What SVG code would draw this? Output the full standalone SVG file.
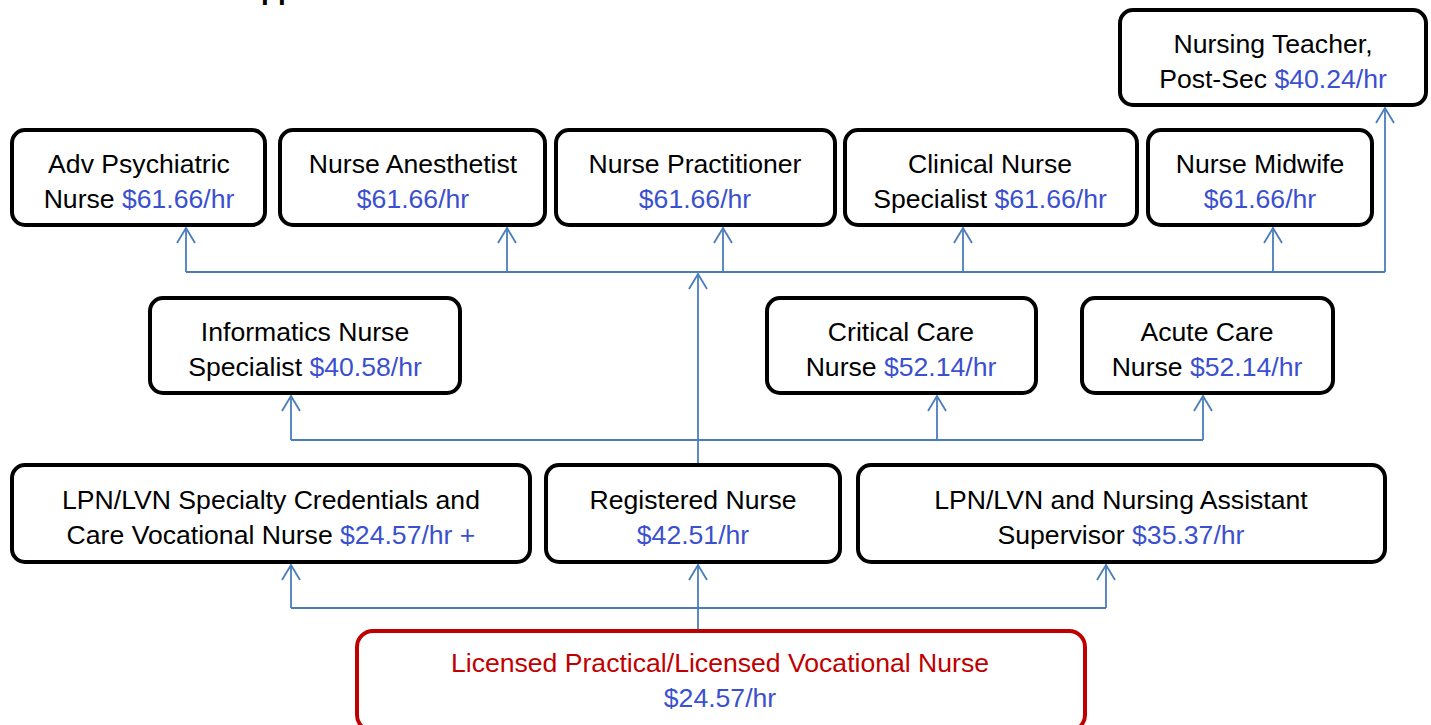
<svg xmlns="http://www.w3.org/2000/svg" width="1431" height="725" viewBox="0 0 1431 725">
<style>
.box{fill:#fff;stroke:#000;stroke-width:4}
.red{fill:#fff;stroke:#C00000;stroke-width:4}
text{font-family:"Liberation Sans",Arial,sans-serif;font-size:26.6px;fill:#000;text-anchor:middle}
.v{fill:#3A50CF}
.r{fill:#C00000}
.title{font-weight:bold;font-size:28px;text-anchor:start}
.c{fill:none;stroke:#4A7EBB;stroke-width:1.8}
</style>
<defs>
<marker id="ah" markerUnits="userSpaceOnUse" viewBox="-17 -11 20 22" refX="0" refY="0" markerWidth="20" markerHeight="22" orient="auto" overflow="visible">
<path d="M-15,-9 L0,0 L-15,9" fill="none" stroke="#4A7EBB" stroke-width="1.8"/>
</marker>
</defs>
<text class="title" x="261" y="-1">pp</text>
<g id="connectors">
<path class="c" d="M186,272 H1385"/>
<path class="c" d="M186,272 V228" marker-end="url(#ah)"/>
<path class="c" d="M507,272 V228" marker-end="url(#ah)"/>
<path class="c" d="M723,272 V228" marker-end="url(#ah)"/>
<path class="c" d="M963,272 V228" marker-end="url(#ah)"/>
<path class="c" d="M1273,272 V228" marker-end="url(#ah)"/>
<path class="c" d="M1385,272 V108" marker-end="url(#ah)"/>
<path class="c" d="M698,465 V274" marker-end="url(#ah)"/>
<path class="c" d="M291,440 H1203"/>
<path class="c" d="M291,440 V396" marker-end="url(#ah)"/>
<path class="c" d="M937,440 V396" marker-end="url(#ah)"/>
<path class="c" d="M1203,440 V396" marker-end="url(#ah)"/>
<path class="c" d="M291,608 H1106"/>
<path class="c" d="M698,630 V565" marker-end="url(#ah)"/>
<path class="c" d="M291,608 V565" marker-end="url(#ah)"/>
<path class="c" d="M1106,608 V565" marker-end="url(#ah)"/>
</g>
<g id="nursing-teacher">
<rect class="box" x="1120" y="10" width="306" height="95" rx="13"/>
<text x="1273" y="53">Nursing Teacher,</text>
<text x="1273" y="88">Post-Sec <tspan class="v">$40.24/hr</tspan></text>
</g>
<g id="adv-psychiatric">
<rect class="box" x="12" y="130" width="253" height="95" rx="13"/>
<text x="139" y="173">Adv Psychiatric</text>
<text x="139" y="208">Nurse <tspan class="v">$61.66/hr</tspan></text>
</g>
<g id="nurse-anesthetist">
<rect class="box" x="280" y="130" width="265" height="95" rx="13"/>
<text x="413" y="173">Nurse Anesthetist</text>
<text x="413" y="208" class="v">$61.66/hr</text>
</g>
<g id="nurse-practitioner">
<rect class="box" x="556" y="130" width="279" height="95" rx="13"/>
<text x="695" y="173">Nurse Practitioner</text>
<text x="695" y="208" class="v">$61.66/hr</text>
</g>
<g id="clinical-nurse-specialist">
<rect class="box" x="845" y="130" width="292" height="95" rx="13"/>
<text x="990" y="173">Clinical Nurse</text>
<text x="990" y="208">Specialist <tspan class="v">$61.66/hr</tspan></text>
</g>
<g id="nurse-midwife">
<rect class="box" x="1148" y="130" width="224" height="95" rx="13"/>
<text x="1260" y="173">Nurse Midwife</text>
<text x="1260" y="208" class="v">$61.66/hr</text>
</g>
<g id="informatics-nurse">
<rect class="box" x="150" y="298" width="310" height="95" rx="13"/>
<text x="305" y="341">Informatics Nurse</text>
<text x="305" y="376">Specialist <tspan class="v">$40.58/hr</tspan></text>
</g>
<g id="critical-care">
<rect class="box" x="767" y="298" width="269" height="95" rx="13"/>
<text x="901" y="341">Critical Care</text>
<text x="901" y="376">Nurse <tspan class="v">$52.14/hr</tspan></text>
</g>
<g id="acute-care">
<rect class="box" x="1082" y="298" width="251" height="95" rx="13"/>
<text x="1207" y="341">Acute Care</text>
<text x="1207" y="376">Nurse <tspan class="v">$52.14/hr</tspan></text>
</g>
<g id="lpn-specialty">
<rect class="box" x="12" y="465" width="518" height="97" rx="13"/>
<text x="271" y="509">LPN/LVN Specialty Credentials and</text>
<text x="271" y="544">Care Vocational Nurse <tspan class="v">$24.57/hr +</tspan></text>
</g>
<g id="registered-nurse">
<rect class="box" x="546" y="465" width="294" height="97" rx="13"/>
<text x="693" y="509">Registered Nurse</text>
<text x="693" y="544" class="v">$42.51/hr</text>
</g>
<g id="lpn-supervisor">
<rect class="box" x="858" y="465" width="527" height="97" rx="13"/>
<text x="1121" y="509">LPN/LVN and Nursing Assistant</text>
<text x="1121" y="544">Supervisor <tspan class="v">$35.37/hr</tspan></text>
</g>
<g id="lpn-lvn">
<rect class="red" x="357" y="631" width="728" height="100" rx="16"/>
<text x="720" y="672" class="r">Licensed Practical/Licensed Vocational Nurse</text>
<text x="720" y="707" class="v">$24.57/hr</text>
</g>
</svg>
